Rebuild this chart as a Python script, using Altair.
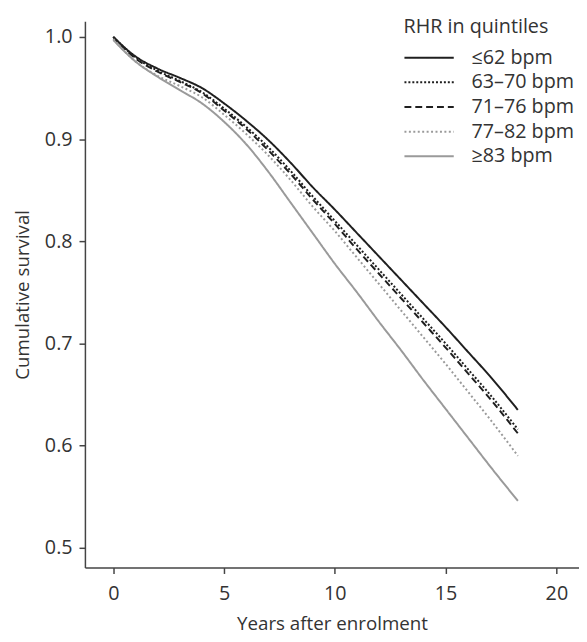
import altair as alt
import pandas as pd

years = [0, 1, 2, 3, 4, 5, 6, 7, 8, 9, 10, 11, 12, 13, 14, 15, 16, 17, 18.26]

groups = ["≤62 bpm", "63–70 bpm", "71–76 bpm", "77–82 bpm", "≥83 bpm"]

s_le62 = [1.000, 0.981, 0.969, 0.960, 0.950, 0.935, 0.918, 0.899, 0.877, 0.853,
          0.831, 0.808, 0.785, 0.762, 0.739, 0.716, 0.692, 0.668, 0.635]
s_63_70 = [1.000, 0.980, 0.967, 0.957, 0.946, 0.930, 0.912, 0.892, 0.869, 0.844,
           0.820, 0.796, 0.772, 0.748, 0.724, 0.700, 0.675, 0.650, 0.616]
s_71_76 = [1.000, 0.979, 0.966, 0.956, 0.945, 0.928, 0.910, 0.889, 0.866, 0.841,
           0.817, 0.792, 0.768, 0.744, 0.720, 0.696, 0.671, 0.646, 0.612]
s_77_82 = [0.998, 0.976, 0.962, 0.952, 0.941, 0.924, 0.905, 0.884, 0.860, 0.834,
           0.810, 0.784, 0.758, 0.732, 0.706, 0.680, 0.653, 0.626, 0.590]
s_ge83 = [0.997, 0.976, 0.961, 0.948, 0.935, 0.917, 0.895, 0.868, 0.838, 0.808,
          0.778, 0.750, 0.721, 0.693, 0.664, 0.636, 0.608, 0.580, 0.546]

series = [s_le62, s_63_70, s_71_76, s_77_82, s_ge83]

x_ticks = [0, 5, 10, 15, 20]
y_ticks = [0.5, 0.6, 0.7, 0.8, 0.9, 1.0]

colors = ["#1f1f1f", "#1f1f1f", "#1f1f1f", "#9a9a9a", "#9a9a9a"]
dashes = [[1, 0], [2, 2], [7, 4], [2, 2.5], [1, 0]]

rows = []
for g, vals in zip(groups, series):
    for t, v in zip(years, vals):
        rows.append({"t": t, "s": v, "g": g})
df = pd.DataFrame(rows)

FONT = "Open Sans"

legend = alt.Legend(
    title="RHR in quintiles",
    orient="none",
    legendX=323,
    legendY=-4,
    symbolType="M-1,0H4",
    symbolSize=400,
    symbolStrokeWidth=2,
    labelFontSize=20,
    titleFontSize=20,
    titleFontWeight="normal",
    titleColor="#333333",
    labelColor="#333333",
    labelFont=FONT,
    titleFont=FONT,
    rowPadding=4,
    titlePadding=10,
    labelOffset=47,
)

chart = alt.Chart(df).mark_line(strokeWidth=2, interpolate="monotone").encode(
    x=alt.X("t:Q",
            scale=alt.Scale(domain=[-1.28, 21.02], nice=False, zero=False),
            axis=alt.Axis(values=x_ticks, title="Years after enrolment", grid=False,
                          format="d", labelPadding=10, titlePadding=12)),
    y=alt.Y("s:Q",
            scale=alt.Scale(domain=[0.4807, 1.0154], nice=False, zero=False),
            axis=alt.Axis(values=y_ticks, format=".1f", title="Cumulative survival",
                          grid=False, labelPadding=7, titlePadding=12)),
    color=alt.Color("g:N", sort=groups,
                    scale=alt.Scale(domain=groups, range=colors), legend=legend),
    strokeDash=alt.StrokeDash("g:N", sort=groups,
                              scale=alt.Scale(domain=groups, range=dashes), legend=legend),
).properties(
    width=501,
    height=554,
    padding={"left": 78, "top": 9, "right": 0, "bottom": 63},
    autosize=alt.AutoSizeParams(type="none"),
).configure_view(
    stroke=None
).configure_axis(
    domainColor="#444444",
    tickColor="#444444",
    tickSize=6,
    labelFont=FONT,
    titleFont=FONT,
    labelFontSize=20,
    titleFontSize=19,
    titleFontWeight="normal",
    labelColor="#333333",
    titleColor="#333333",
    domainWidth=1.5,
    tickWidth=1.5,
)

chart.save("out.html", embed_options={"renderer": "svg", "actions": False})
